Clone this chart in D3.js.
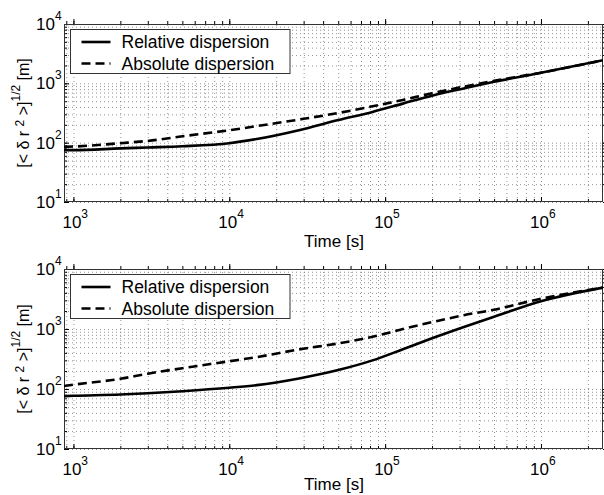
<!DOCTYPE html>
<html>
<head>
<meta charset="utf-8">
<script src="https://cdn.jsdelivr.net/npm/d3@7"></script>
<style>
body { margin: 0; background: #fff; }
svg { display: block; font-family: "Liberation Sans", Arial, Helvetica, sans-serif; }
</style>
</head>
<body>
<div id="chart"></div>
<script>
// Time samples (s)
var timeValues = [870, 1000, 2000, 3000, 5000, 10000, 15000, 28000, 50000, 83000, 130000, 200000, 320000, 500000, 1000000, 2500000];

// Upper panel, rms dispersion (m)
var topRelative = [75, 75, 80, 83, 87, 98, 115, 162, 240, 330, 455, 620, 820, 1060, 1510, 2450];
var topAbsolute = [85, 86, 98, 107, 128, 162, 190, 245, 316, 410, 525, 680, 880, 1100, 1510, 2450];

// Lower panel, rms dispersion (m)
var bottomRelative = [76, 77, 81, 85, 92, 105, 116, 150, 207, 300, 460, 700, 1080, 1600, 2900, 4900];
var bottomAbsolute = [112, 118, 148, 180, 222, 290, 340, 457, 575, 740, 1000, 1300, 1700, 2100, 3200, 4900];

var seriesNames = ["Relative dispersion", "Absolute dispersion"];
var xMajorTicks = [1e3, 1e4, 1e5, 1e6];
var yMajorTicks = [1e1, 1e2, 1e3, 1e4];

var width = 604, height = 495;
var left = 64, right = 603;

var svg = d3.select("#chart").append("svg")
    .attr("width", width)
    .attr("height", height);

var x = d3.scaleLog().domain([870, 2.5e6]).range([left, right]);

// minor tick values for each decade
function minorTicks(lo, hi) {
    var out = [];
    for (var p = lo; p < hi; p++) {
        for (var k = 1; k <= 9; k++) out.push(k * Math.pow(10, p));
    }
    return out;
}
var xMinor = minorTicks(2, 7).filter(function (v) { return v >= 870 && v <= 2.5e6; });
var yMinor = minorTicks(1, 4).concat([1e4]);

var panels = [
    { top: 24, bottom: 202, rel: topRelative, abs: topAbsolute, labelGap: 45 },
    { top: 269, bottom: 449, rel: bottomRelative, abs: bottomAbsolute, labelGap: 41 }
];

panels.forEach(function (p) {
    var y = d3.scaleLog().domain([10, 1e4]).range([p.bottom, p.top]);
    var h = p.bottom - p.top;
    var g = svg.append("g");

    // dotted grid (minor + major)
    function gridStyle(a) {
        a.select(".domain").remove();
        a.selectAll("line").attr("stroke", "#666").attr("stroke-dasharray", "1,3").attr("stroke-width", 0.7);
    }
    g.append("g")
        .attr("transform", "translate(0," + p.bottom + ")")
        .call(d3.axisBottom(x).tickValues(xMinor).tickSize(-h).tickFormat(""))
        .call(gridStyle);
    g.append("g")
        .attr("transform", "translate(" + left + ",0)")
        .call(d3.axisLeft(y).tickValues(yMinor).tickSize(-(right - left)).tickFormat(""))
        .call(gridStyle);

    // inward ticks on all four sides
    function tickStyle(a) {
        a.select(".domain").remove();
        a.selectAll("line").attr("stroke", "#000");
    }
    [[d3.axisBottom, p.bottom, -1], [d3.axisTop, p.top, 1]].forEach(function (d) {
        g.append("g").attr("transform", "translate(0," + d[1] + ")")
            .call(d[0](x).tickValues(xMinor).tickSize(d[2] * 3).tickFormat("")).call(tickStyle);
        g.append("g").attr("transform", "translate(0," + d[1] + ")")
            .call(d[0](x).tickValues(xMajorTicks).tickSize(d[2] * 5).tickFormat("")).call(tickStyle);
    });
    [[d3.axisLeft, left, -1], [d3.axisRight, right, 1]].forEach(function (d) {
        g.append("g").attr("transform", "translate(" + d[1] + ",0)")
            .call(d[0](y).tickValues(yMinor).tickSize(d[2] * 3).tickFormat("")).call(tickStyle);
        g.append("g").attr("transform", "translate(" + d[1] + ",0)")
            .call(d[0](y).tickValues(yMajorTicks).tickSize(d[2] * 5).tickFormat("")).call(tickStyle);
    });

    // frame
    g.append("rect")
        .attr("x", left + 0.5).attr("y", p.top + 0.5)
        .attr("width", right - left - 1).attr("height", h - 1)
        .attr("fill", "none").attr("stroke", "#333").attr("stroke-width", 1);

    // x tick labels 10^n
    xMajorTicks.forEach(function (v) {
        var t = g.append("text")
            .attr("x", x(v) - 11).attr("y", p.bottom + 26)
            .attr("font-size", 17);
        t.append("tspan").text("10");
        t.append("tspan").attr("dy", -10).attr("font-size", 12).text(Math.round(Math.log10(v)));
    });
    // y tick labels 10^n
    yMajorTicks.forEach(function (v) {
        var t = g.append("text")
            .attr("x", 36).attr("y", y(v) + 6)
            .attr("font-size", 17);
        t.append("tspan").text("10");
        t.append("tspan").attr("dy", -10).attr("font-size", 12).text(Math.round(Math.log10(v)));
    });

    // axis labels
    g.append("text")
        .attr("x", 334).attr("y", p.bottom + p.labelGap)
        .attr("text-anchor", "middle").attr("font-size", 17)
        .text("Time [s]");
    var yl = g.append("text")
        .attr("transform", "translate(29," + (p.top + h / 2) + ") rotate(-90)")
        .attr("text-anchor", "middle").attr("font-size", 16);
    yl.append("tspan").text("[< \u03b4 r ");
    yl.append("tspan").attr("dy", -5).attr("font-size", 12).text("2");
    yl.append("tspan").attr("dy", 5).text(" >]");
    yl.append("tspan").attr("dy", -9).attr("font-size", 12).text("1/2");
    yl.append("tspan").attr("dy", 9).text(" [m]");

    // curves
    var line = d3.line()
        .x(function (d, i) { return x(timeValues[i]); })
        .y(function (d) { return y(d); })
        .curve(d3.curveMonotoneX);
    var clipId = "clip" + p.top;
    g.append("clipPath").attr("id", clipId).append("rect")
        .attr("x", left).attr("y", p.top).attr("width", right - left).attr("height", h);
    g.append("path").datum(p.rel)
        .attr("clip-path", "url(#" + clipId + ")")
        .attr("d", line).attr("fill", "none")
        .attr("stroke", "#000").attr("stroke-width", 2.6);
    g.append("path").datum(p.abs)
        .attr("clip-path", "url(#" + clipId + ")")
        .attr("d", line).attr("fill", "none")
        .attr("stroke", "#000").attr("stroke-width", 2.6)
        .attr("stroke-dasharray", "9,5");

    // legend
    var lg = g.append("g").attr("transform", "translate(70.5," + (p.top + 5.5) + ")");
    lg.append("rect").attr("width", 219.5).attr("height", 44)
        .attr("fill", "#fff").attr("stroke", "#333").attr("stroke-width", 1);
    seriesNames.forEach(function (name, i) {
        var cy = 12.5 + i * 21.5;
        lg.append("line")
            .attr("x1", 11).attr("x2", 40).attr("y1", cy).attr("y2", cy)
            .attr("stroke", "#000").attr("stroke-width", 2.6)
            .attr("stroke-dasharray", i === 1 ? "9,5" : null);
        lg.append("text")
            .attr("x", 51).attr("y", cy + 6)
            .attr("font-size", 17.5)
            .text(name);
    });
});
</script>
</body>
</html>
